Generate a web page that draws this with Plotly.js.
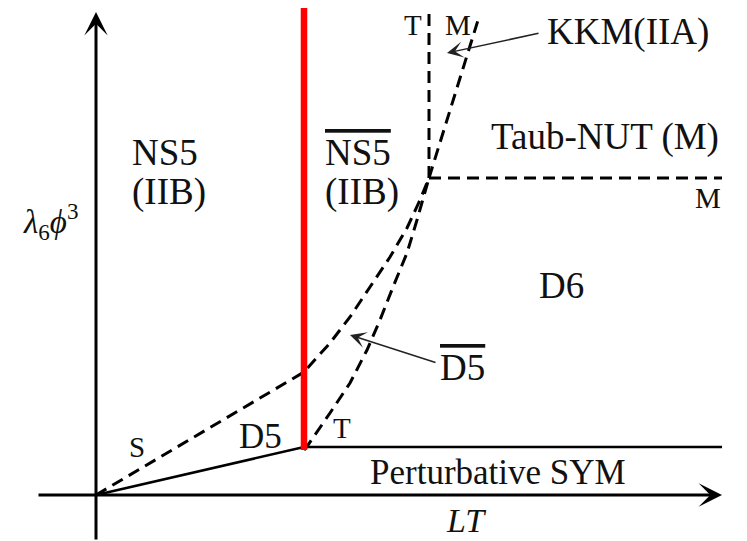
<!DOCTYPE html>
<html>
<head>
<meta charset="utf-8">
<script src="https://cdn.plot.ly/plotly-3.0.1.min.js"></script>
<style>
html,body{margin:0;padding:0;background:#fff;}
#chart{width:747px;height:541px;}
</style>
</head>
<body>
<div id="chart"></div>
<script>
// ---- boundary curves (diagram coordinates, origin at the axes' crossing) ----
const sCurveX = [0, 208, 234, 254, 274, 294, 311, 324, 333];
const sCurveY = [0, 123, 152, 178, 208, 238, 267, 295, 317];
const tCurveX = [208, 212, 234, 254, 271, 284, 297, 311, 321, 331, 333];
const tCurveY = [45, 50, 82, 112, 145, 175, 208, 242, 275, 308, 317];
const mSlantX = [333, 383];
const mSlantY = [317, 478];
const tVerticalX = [333, 333];
const tVerticalY = [317, 485];
const mHorizontalX = [333, 626];
const mHorizontalY = [317, 317];
const sym5X = [0, 208, 626];
const sym5Y = [0, 48, 48];
const redLineX = [208, 208];
const redLineY = [45, 487];
const xAxisX = [-59, 626];
const xAxisY = [0, 0];
const yAxisX = [0, 0];
const yAxisY = [-46, 483];

// ---- region labels ----
const bigLabels = ['NS5', '(IIB)', '<span style="text-decoration:overline">NS5</span>', '(IIB)',
  'KKM(IIA)', 'Taub-NUT (M)', 'D6', '<span style="text-decoration:overline">D5</span>'];
const bigLabelX = [34, 34, 227, 227, 532, 509, 465, 366];
const bigLabelY = [343, 303, 343, 303, 463, 358, 210, 128];
const bigLabelAnchor = ['left', 'left', 'left', 'left', 'center', 'center', 'center', 'center'];

const smallLabels = ['T', 'M', 'M', 'S', 'T'];
const smallLabelX = [317, 362, 612, 41, 246];
const smallLabelY = [470, 470, 297, 48, 67];

const midLabels = ['D5', 'Perturbative SYM'];
const midLabelX = [164, 402];
const midLabelY = [59, 23];

const pointerTail = [[444, 462], [341, 132]];
const pointerTip = [[351, 442], [254, 160]];

const FONT = 'Liberation Serif';

const dashStyle = {color: '#000', width: 3, dash: '12px,7px'};
const traces = [
  {x: sCurveX, y: sCurveY, mode: 'lines', line: dashStyle},
  {x: tCurveX, y: tCurveY, mode: 'lines', line: dashStyle},
  {x: mSlantX, y: mSlantY, mode: 'lines', line: dashStyle},
  {x: tVerticalX, y: tVerticalY, mode: 'lines', line: dashStyle},
  {x: mHorizontalX, y: mHorizontalY, mode: 'lines', line: dashStyle},
  {x: sym5X, y: sym5Y, mode: 'lines', line: {color: '#000', width: 2.6}},
  {x: redLineX, y: redLineY, mode: 'lines', line: {color: '#ff0000', width: 6.5}}
].map(t => Object.assign(t, {hoverinfo: 'skip', showlegend: false}));

const annotations = [];
bigLabels.forEach((t, i) => annotations.push({
  x: bigLabelX[i], y: bigLabelY[i], text: t, showarrow: false,
  xanchor: bigLabelAnchor[i], yanchor: 'middle',
  font: {family: FONT, size: 37, color: '#111'}
}));
smallLabels.forEach((t, i) => annotations.push({
  x: smallLabelX[i], y: smallLabelY[i], text: t, showarrow: false,
  xanchor: 'center', yanchor: 'middle',
  font: {family: FONT, size: 29, color: '#111'}
}));
midLabels.forEach((t, i) => annotations.push({
  x: midLabelX[i], y: midLabelY[i], text: t, showarrow: false,
  xanchor: 'center', yanchor: 'middle',
  font: {family: FONT, size: 35, color: '#111'}
}));
// axis titles
annotations.push({x: 370, y: -25, text: '<i>LT</i>', showarrow: false,
  font: {family: FONT, size: 34, color: '#111'}});
annotations.push({x: -46, y: 274, text: '<i>λ</i><sub>6</sub><i>ϕ</i><sup>3</sup>', showarrow: false,
  font: {family: FONT, size: 33, color: '#111'}});
// pointer arrows
pointerTail.forEach((p, i) => annotations.push({
  x: pointerTip[i][0], y: pointerTip[i][1], ax: p[0], ay: p[1],
  axref: 'x', ayref: 'y', xref: 'x', yref: 'y', text: '', showarrow: true,
  arrowhead: 3, arrowsize: 1.8, arrowwidth: 1.5, arrowcolor: '#222'
}));
// axis arrows
annotations.push({x: xAxisX[1], y: xAxisY[1], ax: xAxisX[0], ay: xAxisY[0],
  axref: 'x', ayref: 'y', text: '', showarrow: true,
  arrowhead: 3, arrowsize: 1.3, arrowwidth: 3, arrowcolor: '#000'});
annotations.push({x: yAxisX[1], y: yAxisY[1], ax: yAxisX[0], ay: yAxisY[0],
  axref: 'x', ayref: 'y', text: '', showarrow: true,
  arrowhead: 3, arrowsize: 1.3, arrowwidth: 3, arrowcolor: '#000'});

const layout = {
  width: 747, height: 541,
  margin: {l: 0, r: 0, t: 0, b: 0},
  paper_bgcolor: '#fff', plot_bgcolor: '#fff',
  showlegend: false,
  font: {family: FONT},
  xaxis: {range: [-96, 651], visible: false, fixedrange: true},
  yaxis: {range: [-46, 495], visible: false, fixedrange: true},
  annotations: annotations
};

Plotly.newPlot('chart', traces, layout, {staticPlot: true, displayModeBar: false});
</script>
</body>
</html>
